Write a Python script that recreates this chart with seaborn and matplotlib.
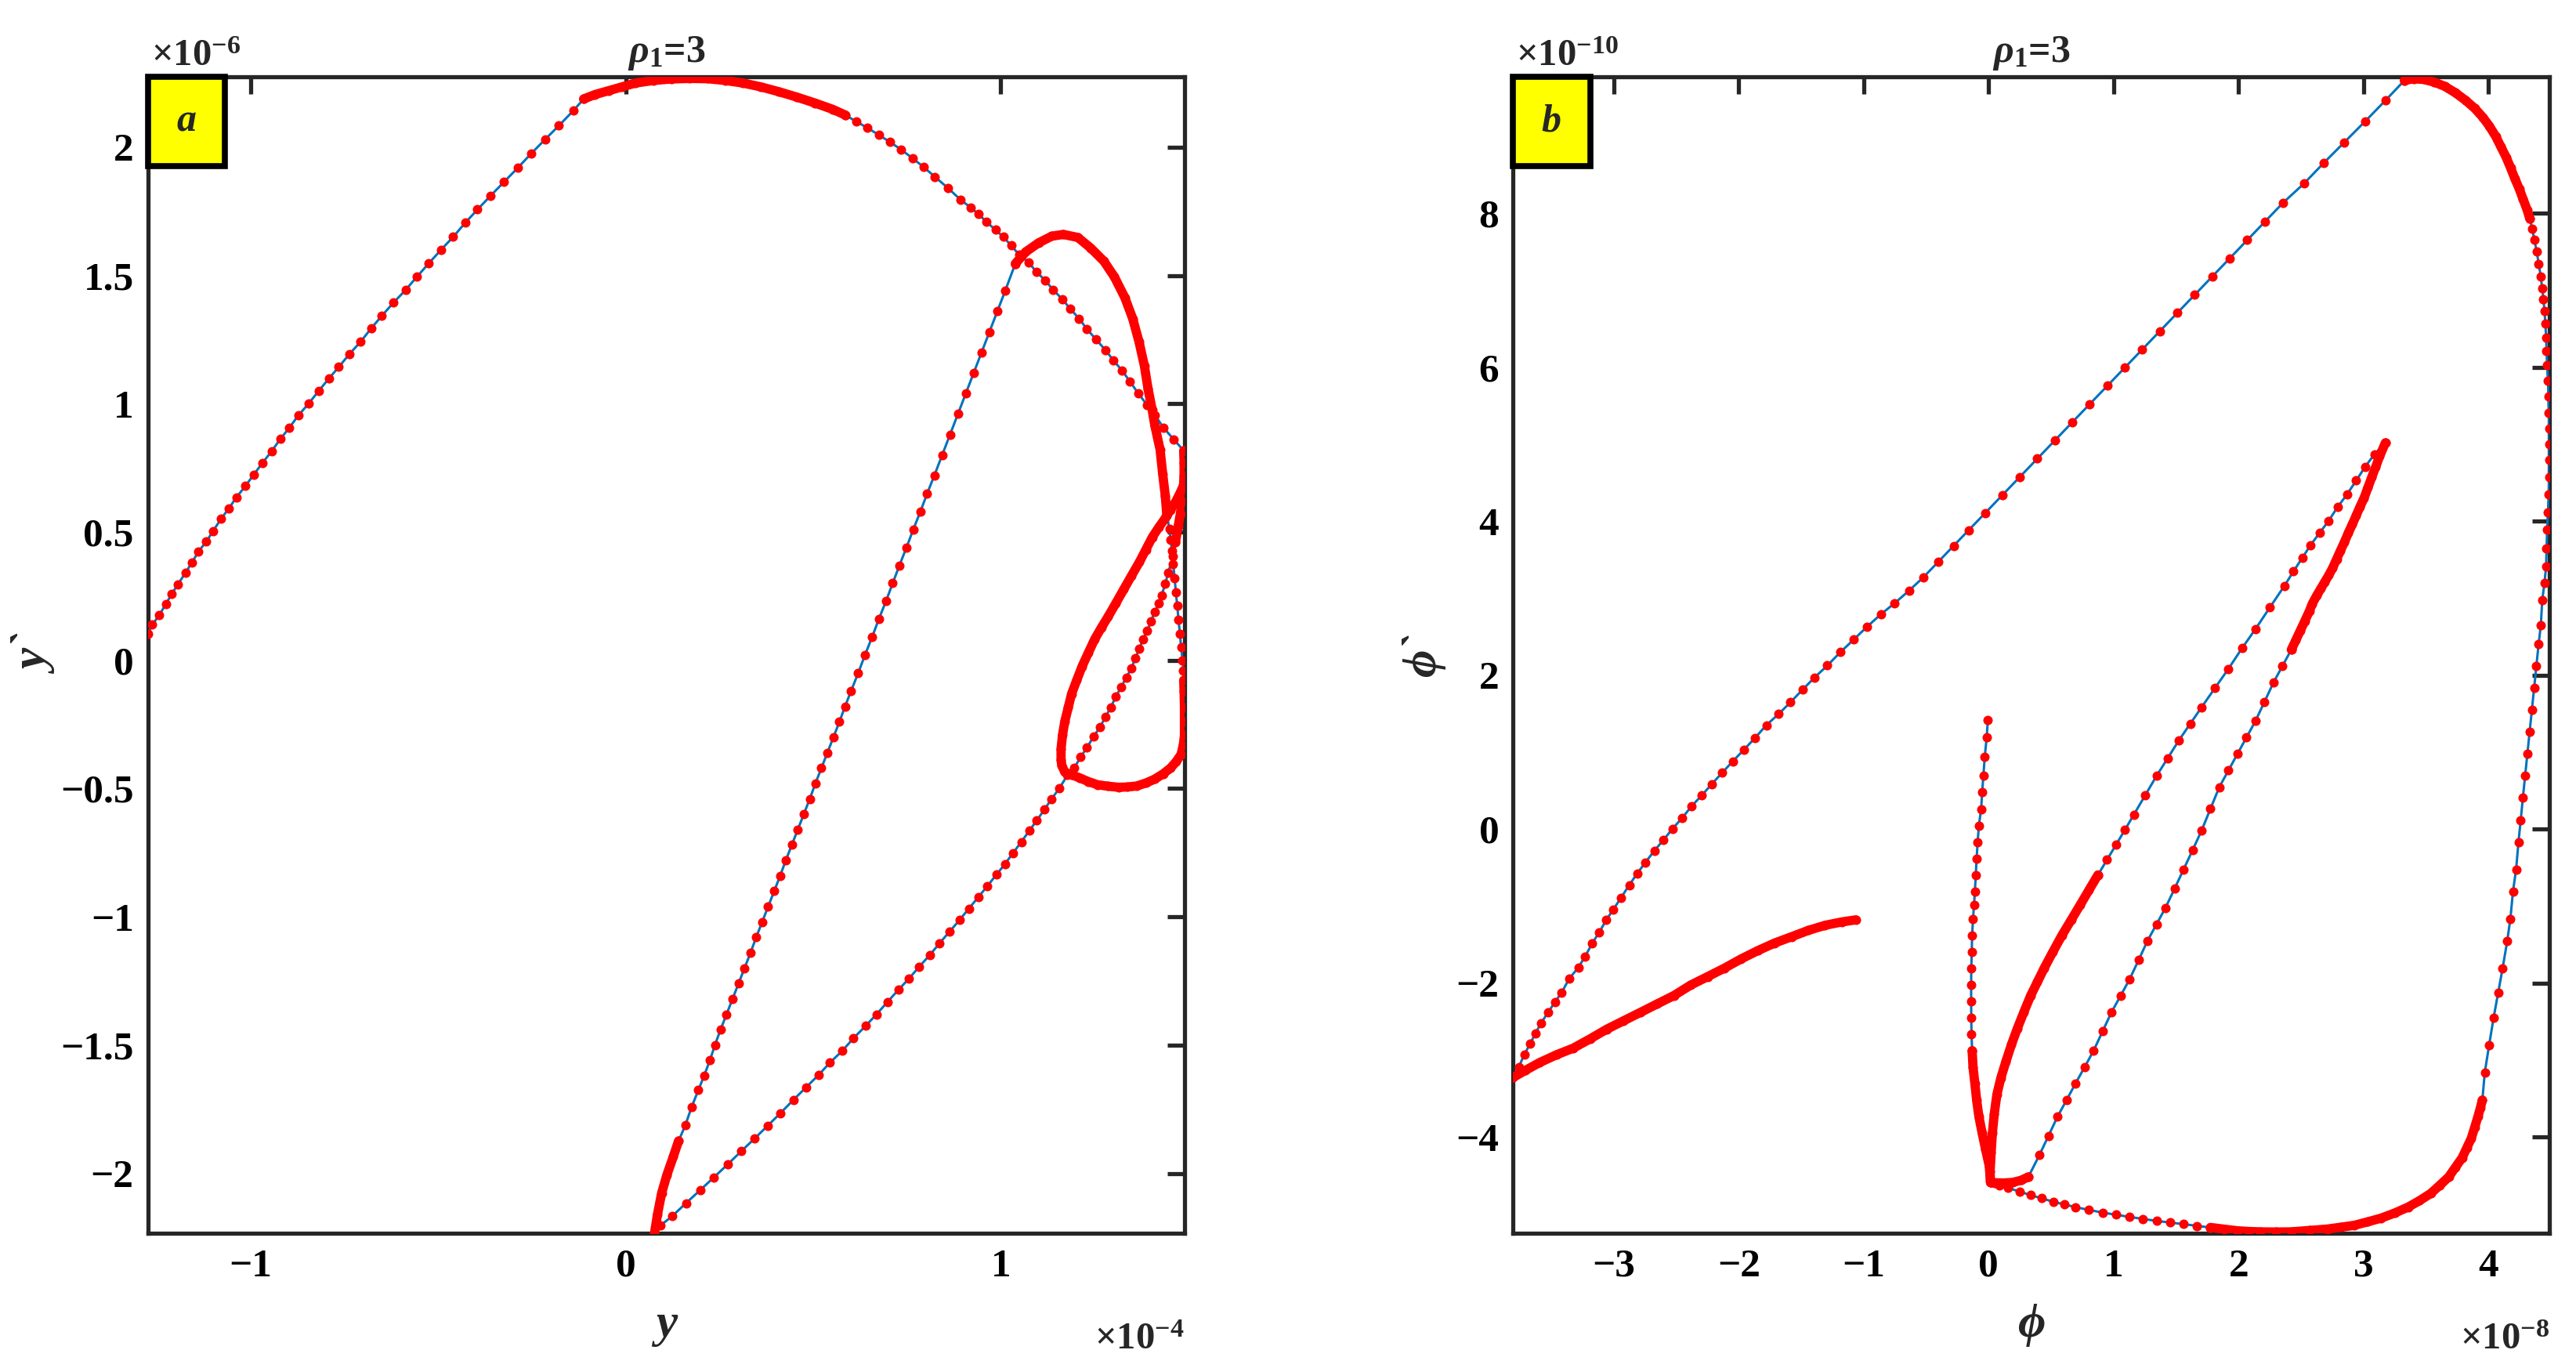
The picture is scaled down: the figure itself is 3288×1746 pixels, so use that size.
import numpy as np
import pandas as pd
import matplotlib
matplotlib.use('Agg')
import matplotlib.pyplot as plt
from matplotlib.patches import Rectangle
from matplotlib.ticker import FixedLocator, FuncFormatter
import seaborn as sns

# Panel a: y in units of 1e-4, y` in units of 1e-6 (in path order)
a_rise = [(-1.274, 0.102), (-1.262, 0.139), (-1.244, 0.175), (-1.226, 0.219), (-1.210, 0.259), (-1.194, 0.296),
          (-1.174, 0.340), (-1.157, 0.380), (-1.139, 0.424), (-1.118, 0.463), (-1.100, 0.504), (-1.079, 0.551),
          (-1.058, 0.592), (-1.038, 0.635), (-1.014, 0.679), (-0.992, 0.723), (-0.968, 0.770), (-0.944, 0.815),
          (-0.921, 0.862), (-0.897, 0.906), (-0.873, 0.954), (-0.845, 1.001), (-0.819, 1.049), (-0.791, 1.099),
          (-0.765, 1.143), (-0.737, 1.193), (-0.707, 1.241), (-0.679, 1.293), (-0.650, 1.343), (-0.619, 1.394),
          (-0.587, 1.443), (-0.556, 1.496), (-0.525, 1.547), (-0.493, 1.599), (-0.460, 1.650), (-0.428, 1.705),
          (-0.395, 1.757), (-0.360, 1.811), (-0.324, 1.865), (-0.288, 1.919), (-0.252, 1.975), (-0.215, 2.030),
          (-0.178, 2.084), (-0.139, 2.143), (-0.112, 2.188)]
a_crest = [(-0.112, 2.188), (-0.082, 2.205), (-0.046, 2.220), (-0.010, 2.235), (0.026, 2.250), (0.074, 2.260),
           (0.122, 2.266), (0.170, 2.268), (0.218, 2.267), (0.266, 2.260), (0.313, 2.250), (0.361, 2.235),
           (0.409, 2.216), (0.457, 2.195), (0.505, 2.172), (0.553, 2.147), (0.586, 2.125)]
a_fall = [(0.586, 2.125), (0.615, 2.100), (0.645, 2.075), (0.675, 2.048), (0.705, 2.020), (0.735, 1.990),
          (0.765, 1.957), (0.795, 1.922), (0.825, 1.884), (0.860, 1.840), (0.893, 1.795), (0.920, 1.765),
          (0.941, 1.739), (0.962, 1.709), (0.986, 1.678), (1.007, 1.650), (1.028, 1.617), (1.049, 1.581),
          (1.074, 1.551), (1.095, 1.515), (1.119, 1.480), (1.140, 1.444), (1.164, 1.408), (1.185, 1.371),
          (1.209, 1.332), (1.230, 1.291), (1.254, 1.251), (1.279, 1.210), (1.300, 1.170), (1.324, 1.129),
          (1.345, 1.086), (1.367, 1.040), (1.390, 0.996), (1.411, 0.956), (1.435, 0.905), (1.462, 0.860),
          (1.488, 0.817)]
a_edge = [(1.488, 0.817), (1.489, 0.770), (1.489, 0.720), (1.487, 0.670), (1.484, 0.620), (1.479, 0.570),
          (1.473, 0.520), (1.466, 0.460)]
a_return = [(1.466, 0.460), (1.460, 0.404), (1.446, 0.340), (1.439, 0.297), (1.429, 0.254), (1.422, 0.222),
            (1.411, 0.190), (1.401, 0.153), (1.391, 0.115), (1.380, 0.083), (1.370, 0.045), (1.359, 0.008),
            (1.349, -0.030), (1.335, -0.067), (1.321, -0.105), (1.307, -0.142), (1.293, -0.185), (1.279, -0.222),
            (1.265, -0.260), (1.248, -0.297), (1.230, -0.340), (1.213, -0.378), (1.196, -0.420), (1.178, -0.448),
            (1.156, -0.500), (1.136, -0.540), (1.117, -0.581), (1.096, -0.625), (1.076, -0.665), (1.055, -0.708),
            (1.033, -0.751), (1.011, -0.795), (0.989, -0.835), (0.964, -0.881), (0.940, -0.924), (0.915, -0.968),
            (0.890, -1.013), (0.864, -1.057), (0.837, -1.103), (0.811, -1.149), (0.783, -1.194), (0.756, -1.240),
            (0.727, -1.285), (0.698, -1.332), (0.669, -1.380), (0.640, -1.425), (0.607, -1.474), (0.578, -1.522),
            (0.545, -1.568), (0.514, -1.617), (0.481, -1.665), (0.447, -1.714), (0.413, -1.765), (0.378, -1.815),
            (0.344, -1.864), (0.308, -1.914), (0.272, -1.965), (0.235, -2.016), (0.199, -2.065), (0.161, -2.116),
            (0.124, -2.167), (0.092, -2.204), (0.077, -2.232)]
a_cusp = [(0.077, -2.232), (0.085, -2.159), (0.096, -2.077), (0.110, -2.006), (0.127, -1.935), (0.141, -1.874)]
a_climb = [(0.141, -1.874), (0.159, -1.813), (0.176, -1.741), (0.194, -1.675), (0.209, -1.620), (0.225, -1.558),
           (0.238, -1.500), (0.253, -1.440), (0.269, -1.380), (0.285, -1.320), (0.301, -1.260), (0.317, -1.200),
           (0.333, -1.140), (0.348, -1.080), (0.364, -1.020), (0.380, -0.960), (0.396, -0.900), (0.412, -0.840),
           (0.427, -0.780), (0.443, -0.720), (0.459, -0.660), (0.475, -0.600), (0.491, -0.540), (0.506, -0.480),
           (0.522, -0.420), (0.538, -0.360), (0.554, -0.300), (0.570, -0.240), (0.585, -0.180), (0.601, -0.120),
           (0.620, -0.050), (0.638, 0.020), (0.657, 0.090), (0.675, 0.160), (0.694, 0.230), (0.712, 0.300),
           (0.730, 0.370), (0.749, 0.440), (0.767, 0.510), (0.786, 0.580), (0.804, 0.650), (0.823, 0.720),
           (0.844, 0.800), (0.865, 0.880), (0.886, 0.960), (0.907, 1.040), (0.928, 1.120), (0.949, 1.200),
           (0.970, 1.280), (0.991, 1.360), (1.012, 1.440), (1.039, 1.546)]
a_hump = [(1.039, 1.546), (1.067, 1.592), (1.101, 1.627), (1.136, 1.653), (1.167, 1.660), (1.206, 1.648),
          (1.240, 1.607), (1.275, 1.556), (1.303, 1.495), (1.331, 1.414), (1.352, 1.332), (1.369, 1.241),
          (1.383, 1.149), (1.393, 1.058), (1.404, 0.976), (1.411, 0.915), (1.425, 0.822), (1.432, 0.726),
          (1.439, 0.640), (1.443, 0.565)]
a_drop = [(1.443, 0.565), (1.450, 0.511), (1.453, 0.470), (1.457, 0.426), (1.460, 0.375), (1.464, 0.319),
          (1.467, 0.265), (1.471, 0.212), (1.474, 0.158), (1.478, 0.104), (1.481, 0.052), (1.485, 0.000),
          (1.487, -0.040), (1.488, -0.078)]
a_loop = [(1.488, -0.078), (1.489, -0.120), (1.490, -0.185), (1.490, -0.240), (1.490, -0.292), (1.487, -0.330),
          (1.481, -0.367), (1.468, -0.395), (1.453, -0.420), (1.433, -0.443), (1.411, -0.463), (1.388, -0.478),
          (1.363, -0.490), (1.338, -0.494), (1.314, -0.495), (1.286, -0.491), (1.258, -0.485), (1.234, -0.473),
          (1.210, -0.458), (1.190, -0.447), (1.171, -0.436), (1.163, -0.410), (1.161, -0.388), (1.161, -0.345),
          (1.165, -0.290), (1.171, -0.238), (1.180, -0.185), (1.189, -0.131), (1.203, -0.077), (1.217, -0.024),
          (1.234, 0.030), (1.251, 0.083), (1.268, 0.126), (1.286, 0.169), (1.307, 0.222), (1.328, 0.276),
          (1.349, 0.330), (1.370, 0.383), (1.387, 0.431), (1.404, 0.479), (1.421, 0.517), (1.439, 0.554),
          (1.453, 0.587), (1.467, 0.619), (1.478, 0.651), (1.488, 0.683)]

# Panel b: phi in units of 1e-8, phi` in units of 1e-10
b_spike = [(-0.006, 1.418), (-0.016, 1.190), (-0.031, 0.941), (-0.042, 0.691), (-0.052, 0.478), (-0.060, 0.262),
           (-0.078, 0.049), (-0.088, -0.165), (-0.096, -0.380), (-0.103, -0.593), (-0.110, -0.808), (-0.117, -0.985),
           (-0.125, -1.164), (-0.132, -1.377), (-0.135, -1.592), (-0.139, -1.806), (-0.140, -2.020), (-0.140, -2.234),
           (-0.139, -2.448), (-0.137, -2.662), (-0.132, -2.876)]
b_spike_base = [(-0.132, -2.876), (-0.125, -3.090), (-0.110, -3.303), (-0.096, -3.518), (-0.078, -3.731),
                (-0.052, -3.946), (-0.024, -4.160), (0.005, -4.373), (0.015, -4.588)]
b_lobe_base = [(0.015, -4.588), (0.012, -4.445), (0.020, -4.200), (0.030, -3.946), (0.045, -3.700), (0.066, -3.446),
               (0.098, -3.230), (0.138, -3.019), (0.182, -2.800), (0.229, -2.591), (0.282, -2.375), (0.336, -2.162),
               (0.390, -1.985), (0.444, -1.806), (0.515, -1.590), (0.587, -1.377), (0.660, -1.180), (0.732, -0.985),
               (0.803, -0.790), (0.875, -0.593)]
b_lobe_up = [(0.875, -0.593), (0.948, -0.396), (1.020, -0.200), (1.092, -0.004), (1.163, 0.192), (1.253, 0.442),
             (1.343, 0.691), (1.433, 0.924), (1.523, 1.156), (1.613, 1.369), (1.703, 1.582), (1.810, 1.832),
             (1.918, 2.082), (2.027, 2.350), (2.135, 2.600), (2.250, 2.880), (2.366, 3.160), (2.439, 3.349),
             (2.512, 3.530), (2.575, 3.689), (2.648, 3.848), (2.721, 4.007), (2.794, 4.189), (2.867, 4.348),
             (2.941, 4.529), (3.014, 4.711), (3.087, 4.870), (3.175, 5.020)]
b_lobe_tip = [(3.175, 5.020), (3.129, 4.846), (3.098, 4.710), (3.066, 4.574), (3.035, 4.438), (3.004, 4.302),
              (2.972, 4.190), (2.941, 4.075), (2.910, 3.960), (2.878, 3.848), (2.847, 3.730), (2.816, 3.621),
              (2.785, 3.510), (2.753, 3.394), (2.722, 3.300), (2.690, 3.213), (2.658, 3.125), (2.627, 3.040),
              (2.590, 2.930), (2.566, 2.831), (2.530, 2.705), (2.494, 2.580), (2.458, 2.455), (2.422, 2.332)]
b_lobe_down = [(2.422, 2.332), (2.350, 2.118), (2.279, 1.904), (2.207, 1.654), (2.135, 1.405), (2.063, 1.191),
               (1.991, 0.977), (1.919, 0.763), (1.846, 0.548), (1.775, 0.264), (1.703, -0.021), (1.632, -0.272),
               (1.560, -0.522), (1.488, -0.772), (1.415, -1.021), (1.343, -1.236), (1.271, -1.450), (1.200, -1.700),
               (1.128, -1.949), (1.056, -2.163), (0.983, -2.377), (0.911, -2.627), (0.840, -2.876), (0.768, -3.090),
               (0.695, -3.303), (0.624, -3.517), (0.552, -3.731), (0.479, -3.981), (0.407, -4.230), (0.318, -4.516)]
b_hook = [(0.318, -4.516), (0.260, -4.560), (0.192, -4.588), (0.120, -4.595), (0.049, -4.592), (0.015, -4.588)]
b_floor = [(0.015, -4.588), (0.084, -4.625), (0.156, -4.659), (0.246, -4.706), (0.336, -4.753), (0.426, -4.795),
           (0.516, -4.838), (0.605, -4.873), (0.695, -4.909), (0.803, -4.945), (0.912, -4.980), (1.020, -5.008),
           (1.128, -5.036), (1.236, -5.062), (1.343, -5.088), (1.452, -5.109), (1.560, -5.130), (1.667, -5.152),
           (1.775, -5.173)]
b_corner = [(1.775, -5.173), (1.883, -5.195), (1.991, -5.216), (2.081, -5.225), (2.171, -5.230), (2.300, -5.232),
            (2.422, -5.230), (2.566, -5.212), (2.710, -5.194), (2.818, -5.170), (2.926, -5.145), (3.034, -5.100),
            (3.142, -5.051), (3.250, -4.985), (3.357, -4.908), (3.448, -4.825), (3.538, -4.731), (3.610, -4.625),
            (3.682, -4.516), (3.736, -4.390), (3.790, -4.266), (3.826, -4.140), (3.862, -4.017), (3.890, -3.870),
            (3.916, -3.731), (3.935, -3.620), (3.951, -3.518)]
b_side = [(3.951, -3.518), (3.970, -3.162), (4.005, -2.804), (4.041, -2.448), (4.077, -2.126), (4.113, -1.806),
          (4.150, -1.450), (4.175, -1.165), (4.196, -0.808), (4.221, -0.522), (4.240, -0.165), (4.258, 0.120),
          (4.275, 0.406), (4.293, 0.691), (4.311, 0.977), (4.329, 1.262), (4.347, 1.548), (4.365, 1.832),
          (4.383, 2.118), (4.401, 2.403), (4.419, 2.654), (4.430, 2.974), (4.448, 3.200), (4.461, 3.416),
          (4.465, 3.644), (4.469, 3.893), (4.476, 4.120), (4.482, 4.347), (4.486, 4.573), (4.486, 4.802),
          (4.486, 5.006), (4.486, 5.209), (4.482, 5.413), (4.480, 5.618), (4.476, 5.823), (4.469, 6.028),
          (4.465, 6.209), (4.461, 6.390), (4.455, 6.572), (4.448, 6.731), (4.440, 6.889), (4.430, 7.025),
          (4.418, 7.184), (4.402, 7.343), (4.386, 7.503), (4.366, 7.661), (4.351, 7.797), (4.330, 7.934)]
b_cap = [(4.330, 7.934), (4.309, 8.047), (4.277, 8.184), (4.246, 8.320), (4.210, 8.456), (4.177, 8.591),
         (4.142, 8.728), (4.100, 8.864), (4.058, 9.000), (4.006, 9.137), (3.954, 9.250), (3.891, 9.363),
         (3.818, 9.467), (3.735, 9.567), (3.651, 9.650), (3.568, 9.704), (3.484, 9.740), (3.400, 9.749),
         (3.327, 9.727)]
b_diag = [(3.327, 9.727), (3.175, 9.467), (3.013, 9.196), (2.846, 8.923), (2.679, 8.651), (2.523, 8.387),
          (2.356, 8.138), (2.210, 7.891), (2.070, 7.654), (1.930, 7.417), (1.790, 7.181), (1.650, 6.944),
          (1.510, 6.707), (1.370, 6.471), (1.230, 6.234), (1.090, 5.997), (0.950, 5.761), (0.810, 5.524),
          (0.670, 5.288), (0.530, 5.051), (0.390, 4.814), (0.250, 4.578), (0.110, 4.341), (-0.030, 4.104),
          (-0.160, 3.885), (-0.280, 3.682), (-0.400, 3.479), (-0.522, 3.273), (-0.638, 3.098), (-0.754, 2.934),
          (-0.862, 2.793), (-0.974, 2.629), (-1.079, 2.465), (-1.186, 2.301), (-1.291, 2.126), (-1.392, 1.973),
          (-1.488, 1.815), (-1.585, 1.651), (-1.679, 1.499), (-1.779, 1.352), (-1.869, 1.187), (-1.958, 1.034),
          (-2.048, 0.881), (-2.133, 0.733), (-2.216, 0.586), (-2.294, 0.443), (-2.379, 0.296), (-2.451, 0.149),
          (-2.529, 0.008), (-2.603, -0.141), (-2.674, -0.277), (-2.746, -0.429), (-2.813, -0.576), (-2.876, -0.725),
          (-2.943, -0.893), (-3.003, -1.041), (-3.059, -1.177), (-3.117, -1.341), (-3.171, -1.478), (-3.229, -1.652),
          (-3.283, -1.795), (-3.357, -1.942), (-3.417, -2.122), (-3.469, -2.241), (-3.525, -2.379), (-3.581, -2.516),
          (-3.626, -2.652), (-3.670, -2.789), (-3.715, -2.925), (-3.760, -3.088), (-3.805, -3.224)]
b_tail = [(-3.805, -3.224), (-3.704, -3.130), (-3.592, -3.030), (-3.458, -2.930), (-3.323, -2.843), (-3.189, -2.723),
          (-3.055, -2.597), (-2.921, -2.488), (-2.786, -2.379), (-2.652, -2.269), (-2.518, -2.160), (-2.384, -2.024),
          (-2.249, -1.915), (-2.115, -1.805), (-1.981, -1.685), (-1.846, -1.576), (-1.712, -1.478), (-1.578, -1.397),
          (-1.443, -1.314), (-1.309, -1.248), (-1.175, -1.204), (-1.063, -1.177)]

a_segments = [('rise', a_rise), ('crest', a_crest), ('fall', a_fall), ('edge', a_edge), ('return', a_return),
              ('cusp', a_cusp), ('climb', a_climb), ('hump', a_hump), ('drop', a_drop), ('loop', a_loop)]
b_segments = [('spike', b_spike), ('spike_base', b_spike_base), ('lobe_base', b_lobe_base), ('lobe_up', b_lobe_up),
              ('lobe_tip', b_lobe_tip), ('lobe_down', b_lobe_down), ('hook', b_hook), ('floor', b_floor),
              ('corner', b_corner), ('side', b_side), ('cap', b_cap), ('diag', b_diag), ('tail', b_tail)]

# segments where the dots are so close they merge into a thick red band
a_thick = {'crest', 'edge', 'cusp', 'hump', 'loop'}
b_thick = {'spike_base', 'lobe_base', 'lobe_tip', 'hook', 'corner', 'cap', 'tail'}

sns.set_style('white')
plt.rcParams['font.family'] = ['Liberation Serif', 'DejaVu Serif']
plt.rcParams['font.weight'] = 'bold'
plt.rcParams['mathtext.fontset'] = 'custom'
plt.rcParams['mathtext.rm'] = 'Liberation Serif:bold'
plt.rcParams['mathtext.it'] = 'Liberation Serif:italic:bold'
plt.rcParams['mathtext.bf'] = 'Liberation Serif:bold'

BLUE = '#0072bd'
RED = '#ff0000'


def minus_fmt(v, pos):
    return ('%g' % v).replace('-', '\u2212')


def draw_panel(ax, segments, thick):
    path = pd.concat([pd.DataFrame(p, columns=['x', 'y']) for _, p in segments], ignore_index=True)
    sns.lineplot(data=path, x='x', y='y', sort=False, estimator=None, color=BLUE, lw=2.2, ax=ax, zorder=3)
    sns.scatterplot(data=path, x='x', y='y', color=RED, s=75, marker='o', linewidth=0, ax=ax, zorder=4,
                    legend=False)
    for name, pts in segments:
        if name in thick:
            seg = pd.DataFrame(pts, columns=['x', 'y'])
            sns.lineplot(data=seg, x='x', y='y', sort=False, estimator=None, color=RED, lw=8.5,
                         ax=ax, zorder=5, solid_capstyle='round', solid_joinstyle='round')


def style_axes(ax, xticks, yticks, letter):
    for sp in ax.spines.values():
        sp.set_linewidth(3.8)
        sp.set_color('#262626')
    ax.tick_params(direction='in', length=16, width=3.8, top=True, right=True, colors='#262626',
                   labelcolor='black', labelsize=37)
    ax.tick_params(axis='x', pad=14)
    ax.tick_params(axis='y', pad=13)
    ax.xaxis.set_major_locator(FixedLocator(xticks))
    ax.yaxis.set_major_locator(FixedLocator(yticks))
    ax.xaxis.set_major_formatter(FuncFormatter(minus_fmt))
    ax.yaxis.set_major_formatter(FuncFormatter(minus_fmt))
    for lab in ax.get_xticklabels() + ax.get_yticklabels():
        lab.set_fontweight('bold')
    ax.grid(False)
    ax.add_patch(Rectangle((0, 0.923), 0.0745, 0.077, transform=ax.transAxes, facecolor='yellow',
                           edgecolor='black', lw=5.5, zorder=10, clip_on=False))
    ax.text(0.037, 0.9615, letter, transform=ax.transAxes, ha='center', va='center', fontsize=36,
            fontstyle='italic', fontweight='bold', zorder=11)
    ax.set_title(r'$\rho_1$=3', fontsize=36, fontweight='bold', pad=14)


fig = plt.figure(figsize=(32.88, 17.46), dpi=100)
ax_a = fig.add_axes([0.0574, 0.0984, 0.4024, 0.8452])
ax_b = fig.add_axes([0.5874, 0.0984, 0.4024, 0.8452])

draw_panel(ax_a, a_segments, a_thick)
draw_panel(ax_b, b_segments, b_thick)

ax_a.set_xlim(-1.274, 1.490)
ax_a.set_ylim(-2.234, 2.273)
ax_b.set_xlim(-3.805, 4.490)
ax_b.set_ylim(-5.25, 9.77)

style_axes(ax_a, [-1, 0, 1], [-2, -1.5, -1, -0.5, 0, 0.5, 1, 1.5, 2], 'a')
style_axes(ax_b, [-3, -2, -1, 0, 1, 2, 3, 4], [-4, -2, 0, 2, 4, 6, 8], 'b')

ax_a.set_xlabel('y', fontsize=44, fontstyle='italic', fontweight='bold')
ax_a.set_ylabel('y`', fontsize=44, fontstyle='italic', fontweight='bold')
ax_b.set_xlabel('\u03d5', fontsize=44, fontstyle='italic', fontweight='bold')
ax_b.set_ylabel('\u03d5`', fontsize=44, fontstyle='italic', fontweight='bold')
ax_a.xaxis.set_label_coords(0.5, -0.06)
ax_b.xaxis.set_label_coords(0.5, -0.06)
ax_a.yaxis.set_label_coords(-0.085, 0.5)
ax_b.yaxis.set_label_coords(-0.065, 0.5)

ax_a.text(0.003, 1.003, r'$\times10^{-6}$', transform=ax_a.transAxes, ha='left', va='bottom', fontsize=35)
ax_a.text(1.0, -0.092, r'$\times10^{-4}$', transform=ax_a.transAxes, ha='right', va='center', fontsize=35)
ax_b.text(0.003, 1.003, r'$\times10^{-10}$', transform=ax_b.transAxes, ha='left', va='bottom', fontsize=35)
ax_b.text(1.0, -0.092, r'$\times10^{-8}$', transform=ax_b.transAxes, ha='right', va='center', fontsize=35)

fig.savefig('out.png', dpi=100, facecolor='white')
